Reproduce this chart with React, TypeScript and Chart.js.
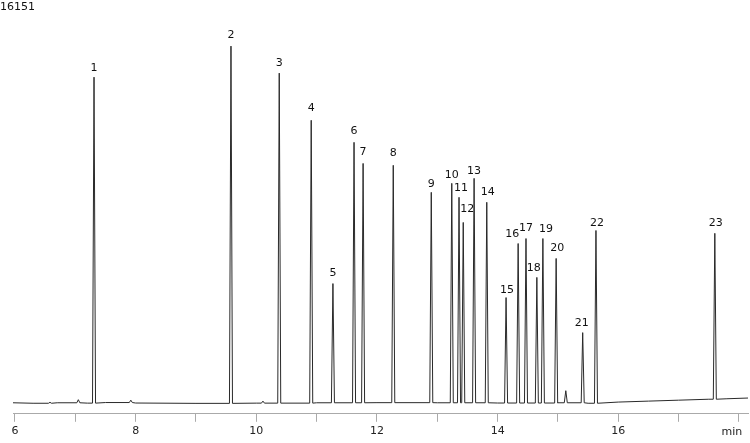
import { useEffect, useRef } from 'react';
import { Chart, registerables } from 'chart.js';

Chart.register(...registerables);

// retention times (min) and apex response of the labelled peaks
const peakLabels = ['1', '2', '3', '4', '5', '6', '7', '8', '9', '10', '11', '12', '13', '14', '15', '16', '17', '18', '19', '20', '21', '22', '23'];
const peakTimes = [7.31, 9.58, 10.38, 10.91, 11.27, 11.62, 11.77, 12.27, 12.9, 13.24, 13.36, 13.43, 13.61, 13.82, 14.14, 14.34, 14.47, 14.65, 14.75, 14.97, 15.41, 15.63, 17.6];
const peakHeights = [13740, 15050, 13910, 11920, 5030, 10990, 10100, 10020, 8880, 9260, 8670, 7610, 9470, 8460, 4440, 6720, 6930, 5290, 6930, 6090, 2960, 7270, 7150];

// small unlabelled bumps
const minorTimes = [6.58, 7.05, 7.92, 10.11, 15.13];
const minorHeights = [40, 130, 100, 85, 510];

// baseline drift
const baseTimes = [5.967, 6.3, 6.7, 7.2, 7.5, 8.0, 9.0, 10.0, 11.0, 12.0, 13.0, 14.0, 15.0, 15.5, 16.0, 16.5, 17.0, 17.5, 17.8, 18.15];
const baseValues = [0, -20, 0, -15, 10, -10, -25, -15, 0, 5, 0, -10, 0, -20, 30, 70, 110, 150, 170, 200];

const xTicks = [6, 8, 10, 12, 14, 16];
const fullScale = '16151';

// label placement (px)
const labelGap = [9, 11, 10, 12, 10, 11, 11, 12, 8, 8, 9, 13, 7, 10, 7, 9, 10, 9, 9, 10, 9, 7, 10];
const labelDx = [0, 0, 0, 0, 0, 0, 0, 0, 0, 0, 2, 4, 0, 1, 1, -6, 0, -3, 3, 1, -1, 1, 1];

const HALF = 0.025;
const FONT = '11px "DejaVu Sans"';

function buildTrace() {
  const pts: { x: number; y: number }[] = baseTimes.map((t, i) => ({ x: t, y: baseValues[i] }));
  const baseAt = (t: number) => {
    let v = baseValues[0];
    for (let i = 0; i < baseTimes.length; i++) if (baseTimes[i] <= t) v = baseValues[i];
    return v;
  };
  const addPeak = (t: number, h: number, apexAbs: boolean) => {
    const b = baseAt(t);
    pts.push({ x: t - HALF, y: b });
    pts.push({ x: t, y: apexAbs ? h : b + h });
    pts.push({ x: t + HALF, y: b });
  };
  peakTimes.forEach((t, i) => addPeak(t, peakHeights[i], true));
  minorTimes.forEach((t, i) => addPeak(t, minorHeights[i], false));
  pts.sort((a, b) => a.x - b.x);
  return pts;
}

const labelsPlugin = {
  id: 'peakLabels',
  afterDraw(chart: Chart) {
    const { ctx, scales } = chart;
    const xs = scales.x;
    const ys = scales.y;
    ctx.save();
    ctx.font = FONT;
    ctx.fillStyle = '#111';
    ctx.textAlign = 'center';
    ctx.textBaseline = 'middle';
    peakTimes.forEach((t, i) => {
      const x = xs.getPixelForValue(t) + labelDx[i];
      const y = ys.getPixelForValue(peakHeights[i]) - labelGap[i];
      ctx.fillText(peakLabels[i], x, y);
    });
    ctx.textAlign = 'left';
    ctx.fillText(fullScale, 0, 7);
    ctx.textAlign = 'center';
    ctx.fillStyle = '#222';
    ctx.fillText('min', xs.getPixelForValue(18) - 7, xs.top + 18);
    ctx.restore();
  },
};

const App = () => {
  const chartRef = useRef<HTMLCanvasElement | null>(null);

  useEffect(() => {
    if (!chartRef.current) return;
    const context = chartRef.current.getContext('2d');
    if (!context) return;

    const myChart = new Chart(context, {
      type: 'scatter',
      data: {
        datasets: [
          {
            data: buildTrace(),
            showLine: true,
            borderColor: '#2a2a2a',
            borderWidth: 1,
            pointRadius: 0,
            tension: 0,
          },
        ],
      },
      options: {
        responsive: false,
        animation: false,
        layout: { padding: { left: 13, right: 2, top: 20, bottom: 2 } },
        plugins: {
          legend: { display: false },
          tooltip: { enabled: false },
        },
        scales: {
          x: {
            type: 'linear',
            min: 5.967,
            max: 18.15,
            grid: { drawOnChartArea: false, drawTicks: true, tickLength: 8, color: '#aaa' },
            border: { display: true, color: '#aaa' },
            ticks: {
              stepSize: 1,
              includeBounds: false,
              autoSkip: false,
              maxRotation: 0,
              color: '#222',
              font: { family: 'DejaVu Sans', size: 11 },
              callback: (v) => (xTicks.includes(Number(v)) ? String(v) : ''),
            },
          },
          y: {
            display: false,
            min: -465,
            max: 16151,
          },
        },
      },
      plugins: [labelsPlugin],
    });

    return () => myChart.destroy();
  }, []);

  return (
    <div style={{ position: 'absolute', left: 0, top: 0, width: 750, height: 443, background: '#fff' }}>
      <canvas ref={chartRef} width={750} height={443} />
    </div>
  );
};

export default App;
